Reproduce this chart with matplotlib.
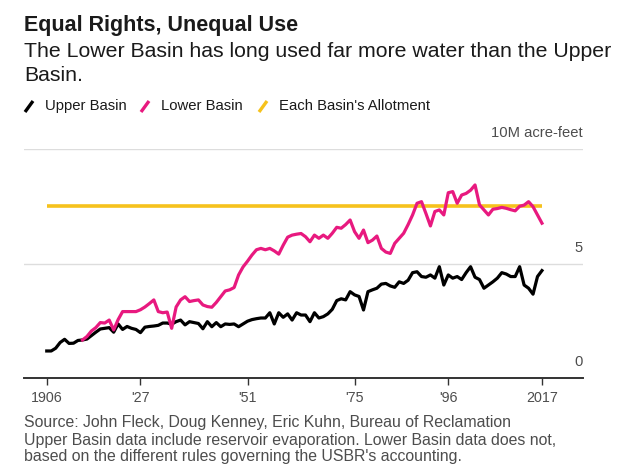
import numpy as np
import matplotlib.pyplot as plt
from matplotlib.lines import Line2D

plt.rcParams['font.family'] = ['Liberation Sans', 'DejaVu Sans']

# Consumptive use, millions of acre-feet
upper_years = np.arange(1906, 2018)
upper_basin = [
    1.18, 1.18, 1.30, 1.55, 1.69, 1.51, 1.52, 1.64, 1.66, 1.70,
    1.85, 2.00, 2.14, 2.17, 2.20, 2.00, 2.36, 2.12, 2.25, 2.17,
    2.12, 1.98, 2.22, 2.25, 2.27, 2.30, 2.40, 2.40, 2.35, 2.46,
    2.53, 2.32, 2.46, 2.42, 2.38, 2.15, 2.46, 2.24, 2.42, 2.24,
    2.36, 2.34, 2.36, 2.24, 2.36, 2.48, 2.55, 2.59, 2.62, 2.62,
    2.85, 2.36, 2.85, 2.65, 2.80, 2.53, 2.85, 2.75, 2.75, 2.46,
    2.85, 2.62, 2.68, 2.80, 3.00, 3.38, 3.46, 3.41, 3.77, 3.63,
    3.56, 2.97, 3.77, 3.85, 3.92, 4.10, 4.13, 4.02, 3.96, 4.20,
    4.13, 4.27, 4.60, 4.64, 4.43, 4.40, 4.50, 4.36, 4.86, 4.06,
    4.50, 4.36, 4.43, 4.30, 4.60, 4.86, 4.40, 4.30, 3.92, 4.06,
    4.20, 4.36, 4.60, 4.54, 4.43, 4.43, 4.86, 4.06, 3.92, 3.66,
    4.43, 4.69,
]
lower_years = np.arange(1914, 2018)
lower_basin = [
    1.66, 1.81, 2.05, 2.20, 2.42, 2.40, 2.53, 2.10, 2.55, 2.90,
    2.90, 2.90, 2.90, 2.98, 3.10, 3.25, 3.41, 2.90, 2.85, 2.88,
    2.17, 3.10, 3.41, 3.55, 3.34, 3.38, 3.41, 3.19, 3.12, 3.09,
    3.30, 3.55, 3.80, 3.85, 3.95, 4.50, 4.85, 5.10, 5.37, 5.60,
    5.66, 5.60, 5.66, 5.55, 5.41, 5.80, 6.15, 6.24, 6.28, 6.31,
    6.17, 5.95, 6.24, 6.10, 6.24, 6.10, 6.32, 6.58, 6.54, 6.70,
    6.90, 6.39, 6.10, 6.46, 5.91, 6.02, 6.20, 5.66, 5.50, 5.44,
    5.88, 6.10, 6.32, 6.70, 7.12, 7.63, 7.70, 7.18, 6.64, 7.27,
    7.34, 7.12, 8.09, 8.14, 7.63, 7.99, 8.06, 8.20, 8.43, 7.56,
    7.34, 7.12, 7.37, 7.40, 7.45, 7.41, 7.35, 7.30, 7.50, 7.55,
    7.70, 7.48, 7.12, 6.76,
]
allot_years = [1906, 2017]
allotment = [7.5, 7.5]

x_ticks = [1906, 1927, 1951, 1975, 1996, 2017]
x_labels = ['1906', "'27", "'51", "'75", "'96", '2017']
y_ticks = [0, 5, 10]
y_labels = ['0', '5', '10M acre-feet']

BLACK = '#000000'
PINK = '#e8197f'
YELLOW = '#f6c21c'
TEXT = '#1a1a1a'
GREY = '#4d4d4d'

W, H = 620, 471
fig = plt.figure(figsize=(W / 100, H / 100), dpi=100)


def fx(px):
    return px / W


def fy(py):
    return 1 - py / H


ax = fig.add_axes([fx(24), fy(378), fx(583 - 24), 229 / H])

ax.plot(allot_years, allotment, color=YELLOW, lw=2.6, solid_capstyle='butt', zorder=2)
ax.plot(upper_years, upper_basin, color=BLACK, lw=2.3, solid_joinstyle='round', zorder=3)
ax.plot(lower_years, lower_basin, color=PINK, lw=2.3, solid_joinstyle='round', zorder=4)

ax.set_xlim(1900.9, 2026.2)
ax.set_ylim(0, 10)

for v in y_ticks[1:]:
    ax.axhline(v, color='#dddddd', lw=1.0, zorder=1)
for v, lab in zip(y_ticks, y_labels):
    ax.annotate(lab, xy=(1, v), xycoords=ax.get_yaxis_transform(),
                xytext=(0, 16), textcoords='offset pixels',
                ha='right', va='center', fontsize=10.6, color=GREY)

ax.set_yticks([])
for s in ['top', 'left', 'right']:
    ax.spines[s].set_visible(False)
ax.spines['bottom'].set_color('#333333')
ax.spines['bottom'].set_linewidth(1.4)
ax.spines['bottom'].set_zorder(5)

ax.set_xticks(x_ticks)
ax.set_xticklabels(x_labels)
ax.tick_params(axis='x', length=5, width=1, color='#333333', pad=4.5,
               labelsize=10.3, labelcolor=GREY)

# Title block
fig.text(fx(24), fy(31), 'Equal Rights, Unequal Use', fontsize=15.5, fontweight='bold',
         color=TEXT, ha='left', va='baseline')
fig.text(fx(24), fy(57), 'The Lower Basin has long used far more water than the Upper',
         fontsize=15.3, color=TEXT, ha='left', va='baseline')
fig.text(fx(24), fy(81), 'Basin.', fontsize=15.3, color=TEXT, ha='left', va='baseline')

# Legend with slash markers
legend_items = [('Upper Basin', BLACK, 25), ('Lower Basin', PINK, 141),
                ("Each Basin's Allotment", YELLOW, 259)]
for label, col, x0 in legend_items:
    fig.add_artist(Line2D([fx(x0), fx(x0 + 8)], [fy(112), fy(101)],
                          color=col, lw=2.4, solid_capstyle='butt'))
    fig.text(fx(x0 + 20), fy(106), label, fontsize=10.7, color=TEXT,
             ha='left', va='center')

# Footnote
fig.text(fx(24), fy(422), 'Source: John Fleck, Doug Kenney, Eric Kuhn, Bureau of Reclamation',
         fontsize=11.4, color=GREY, ha='left', va='center')
fig.text(fx(24), fy(440), 'Upper Basin data include reservoir evaporation. Lower Basin data does not,',
         fontsize=11.4, color=GREY, ha='left', va='center')
fig.text(fx(24), fy(457), "based on the different rules governing the USBR's accounting.",
         fontsize=11.4, color=GREY, ha='left', va='center')

fig.savefig('out.png', dpi=100)
